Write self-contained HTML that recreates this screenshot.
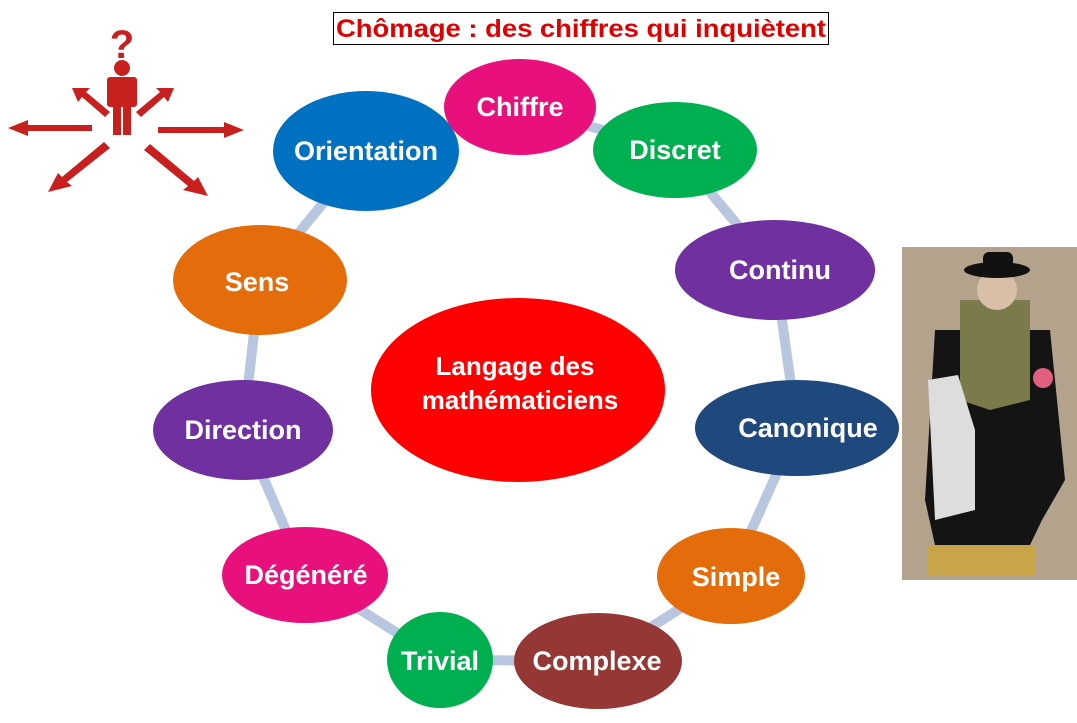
<!DOCTYPE html>
<html><head><meta charset="utf-8"><style>
html,body{margin:0;padding:0;background:#fff;width:1077px;height:723px;overflow:hidden}
svg{display:block}
text{font-family:"Liberation Sans",Arial,sans-serif;font-weight:bold;fill:#fff;text-anchor:middle;dominant-baseline:central}
</style></head><body>
<svg width="1077" height="723" viewBox="0 0 1077 723">
<g fill="#c8201e">
<text x="122" y="45" style="fill:#c8201e;font-size:40px">?</text>
<circle cx="122" cy="68" r="8"/>
<rect x="107" y="77" width="30" height="30" rx="3"/>
<rect x="113" y="105" width="8" height="30"/><rect x="123" y="105" width="8" height="30"/>
<polygon points="8,128 28,120 28,125 92,125 92,131 28,131 28,136"/>
<polygon points="244,130 224,122 224,127 158,127 158,133 224,133 224,138"/>
<polygon points="72,88 90,88 86,92 110,112 105,117 82,97 78,102"/>
<polygon points="174,88 156,88 160,92 136,112 141,117 164,97 168,102"/>
<polygon points="48,192 58,173 62,177 104,142 110,148 67,182 72,186"/>
<polygon points="208,196 198,177 194,181 150,144 144,150 188,186 183,190"/>
</g>
<rect x="902" y="247" width="175" height="333" fill="#b3a28c"/>
<rect x="928" y="545" width="108" height="30" fill="#c9a54a"/>
<polygon points="935,330 1050,330 1065,480 1042,520 1030,545 935,545 925,500" fill="#141414"/>
<polygon points="960,300 1030,300 1030,400 990,410 960,400" fill="#7a7a4a"/>
<polygon points="928,380 958,375 975,430 975,510 935,520" fill="#ddd"/>
<circle cx="997" cy="290" r="20" fill="#d9bfa8"/>
<ellipse cx="997" cy="270" rx="33" ry="8" fill="#111"/>
<rect x="983" y="252" width="30" height="18" rx="6" fill="#111"/>
<circle cx="1043" cy="378" r="10" fill="#e06080"/>
<polyline points="520,107 675,150 775,270 797,428 731,576 598,661 440,660 305,575 243,430 260,280 366,151 520,107" fill="none" stroke="#b8c6df" stroke-width="10" stroke-linejoin="round"/>
<rect x="333.5" y="12.5" width="495" height="32" fill="#fff" stroke="#000"/>
<text x="581" y="29" textLength="490" lengthAdjust="spacingAndGlyphs" style="fill:#e00000;font-size:25px">Chômage : des chiffres qui inquiètent</text>
<ellipse cx="518" cy="390" rx="147" ry="92" fill="#ff0000"/>
<text x="515" y="366" style="font-size:26px">Langage des</text>
<text x="520" y="400" style="font-size:26px">mathématiciens</text>
<ellipse cx="366" cy="151" rx="93" ry="60" fill="#0070c0"/><text x="366" y="151" style="font-size:27px">Orientation</text>
<ellipse cx="520" cy="107" rx="76" ry="48" fill="#e8107c"/><text x="520" y="107" style="font-size:27px">Chiffre</text>
<ellipse cx="675" cy="150" rx="82" ry="48" fill="#00b050"/><text x="675" y="150" style="font-size:27px">Discret</text>
<ellipse cx="775" cy="270" rx="100" ry="50" fill="#7030a0"/><text x="780" y="270" style="font-size:27px">Continu</text>
<ellipse cx="260" cy="280" rx="87" ry="55" fill="#e46c0a"/><text x="257" y="282" style="font-size:27px">Sens</text>
<ellipse cx="797" cy="428" rx="102" ry="48" fill="#1f497d"/><text x="808" y="428" style="font-size:27px">Canonique</text>
<ellipse cx="243" cy="430" rx="90" ry="50" fill="#7030a0"/><text x="243" y="430" style="font-size:27px">Direction</text>
<ellipse cx="731" cy="576" rx="74" ry="48" fill="#e46c0a"/><text x="736" y="577" style="font-size:27px">Simple</text>
<ellipse cx="305" cy="575" rx="83" ry="48" fill="#e8107c"/><text x="306" y="575" style="font-size:27px">Dégénéré</text>
<ellipse cx="440" cy="660" rx="53" ry="48" fill="#00b050"/><text x="440" y="661" style="font-size:27px">Trivial</text>
<ellipse cx="598" cy="661" rx="84" ry="48" fill="#953735"/><text x="597" y="661" style="font-size:27px">Complexe</text>
</svg>
</body></html>
